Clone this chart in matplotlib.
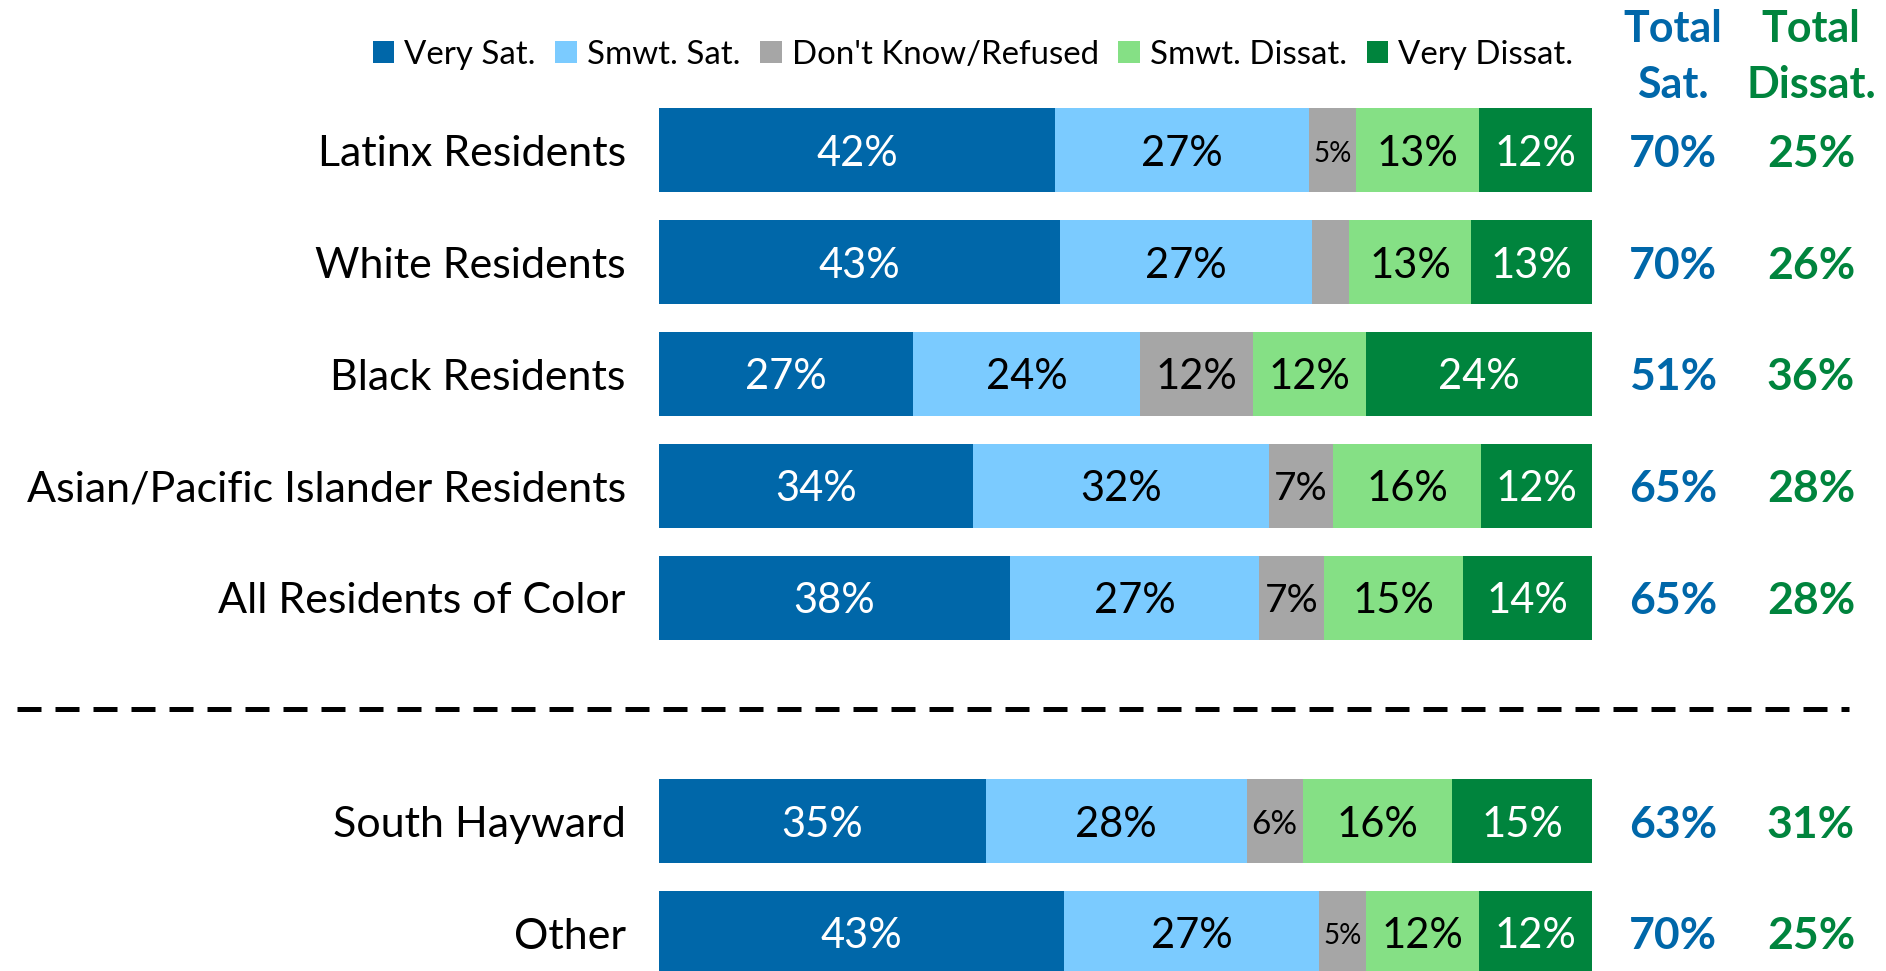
import matplotlib.pyplot as plt
from matplotlib.lines import Line2D
import numpy as np

plt.rcParams['font.family'] = ['Lato', 'DejaVu Sans']

groups = ["Latinx Residents", "White Residents", "Black Residents",
          "Asian/Pacific Islander Residents", "All Residents of Color",
          "South Hayward", "Other"]
very_sat = [42, 43, 27, 34, 38, 35, 43]
smwt_sat = [27, 27, 24, 32, 27, 28, 27]
dont_know = [5, 4, 12, 7, 7, 6, 5]
smwt_dissat = [13, 13, 12, 16, 15, 16, 12]
very_dissat = [12, 13, 24, 12, 14, 15, 12]
total_sat = [70, 70, 51, 65, 65, 63, 70]
total_dissat = [25, 26, 36, 28, 28, 31, 25]

series_names = ["Very Sat.", "Smwt. Sat.", "Don't Know/Refused", "Smwt. Dissat.", "Very Dissat."]
series = [very_sat, smwt_sat, dont_know, smwt_dissat, very_dissat]
colors = ["#0067A9", "#7BCBFF", "#A6A6A6", "#85E085", "#00843D"]
text_colors = ["white", "black", "black", "black", "white"]
blue = "#0067A9"
green = "#00843D"

# rows 0-4, gap for the dashed divider, then 6-7
ypos = [0, 1, 2, 3, 4, 6, 7]

W, H = 1886, 971
fig = plt.figure(figsize=(W / 100, H / 100), dpi=100)
x0, x1 = 659, 1592
ax = fig.add_axes([x0 / W, 0, (x1 - x0) / W, 1])
row_px = 111.8
top_px = 150.4
ax.set_ylim((H - top_px) / row_px, -top_px / row_px)
ax.set_xlim(0, 100)

data = np.array(series, dtype=float)
shares = data / data.sum(axis=0) * 100  # 100% stacked


def label_size(v):
    if v >= 10:
        return 30
    return {5: 20, 6: 24, 7: 28}.get(v, 0)


left = np.zeros(len(groups))
for i, name in enumerate(series_names):
    ax.barh(ypos, shares[i], left=left, height=0.75, color=colors[i], label=name)
    for j, y in enumerate(ypos):
        v = series[i][j]
        size = label_size(v)
        if size:
            ax.text(left[j] + shares[i][j] / 2, y + 0.03, f"{v}%", ha="center", va="center",
                    color=text_colors[i], fontsize=size)
    left += shares[i]

ax.set_yticks(ypos)
ax.set_yticklabels(groups, fontsize=31)
ax.tick_params(axis="y", length=0, pad=24)
ax.set_xticks([])
for s in ax.spines.values():
    s.set_visible(False)

sat_x = (1673 - x0) / (x1 - x0) * 100
dis_x = (1811 - x0) / (x1 - x0) * 100
for j, y in enumerate(ypos):
    ax.text(sat_x, y + 0.03, f"{total_sat[j]}%", ha="center", va="center",
            color=blue, fontsize=32, fontweight="bold", clip_on=False)
    ax.text(dis_x, y + 0.03, f"{total_dissat[j]}%", ha="center", va="center",
            color=green, fontsize=32, fontweight="bold", clip_on=False)

head_y = (57 - top_px) / row_px
ax.text(sat_x, head_y, "Total\nSat.", ha="center", va="center", color=blue,
        fontsize=31, fontweight="bold", linespacing=1.5, clip_on=False)
ax.text(dis_x, head_y, "Total\nDissat.", ha="center", va="center", color=green,
        fontsize=31, fontweight="bold", linespacing=1.5, clip_on=False)

# dashed divider
div_y = 1 - (top_px + 5 * row_px) / H
fig.add_artist(Line2D([17 / W, 1849 / W], [div_y, div_y], color="black", lw=3.6,
                      dashes=(4.8, 2.8), transform=fig.transFigure))

fig.legend(loc="center", bbox_to_anchor=(973 / W, 1 - 55 / H), ncol=5, frameon=False,
           fontsize=23.8, handlelength=0.65, handleheight=0.65, handletextpad=0.3,
           columnspacing=0.6)

fig.savefig("out.png", dpi=100)
